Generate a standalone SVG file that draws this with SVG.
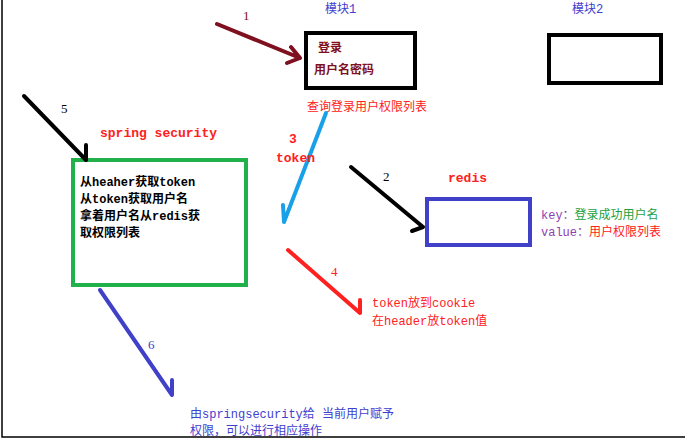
<svg xmlns="http://www.w3.org/2000/svg" width="687" height="441" viewBox="0 0 687 441">
<style>
.t{font-family:"Liberation Mono","Noto Sans CJK SC",monospace;font-size:13px;font-weight:bold}
.c{font-family:"Liberation Mono","Noto Sans CJK SC",monospace;font-size:12px}
.n{font-family:"Liberation Serif",serif;font-size:13px}
.ln{fill:none;stroke-width:4;stroke-linecap:round;stroke-linejoin:round}
</style>
<rect width="687" height="441" fill="#fff"/>
<path d="M2 0V437H685" fill="none" stroke="#000" stroke-width="1.5"/>
<g id="mod1"><rect x="306" y="33" width="109" height="55" fill="none" stroke="#000" stroke-width="4"/>
<text class="c" x="325" y="13" fill="#4040d0">模块1</text>
<text class="c" x="318" y="52" fill="#7f1020" font-weight="bold">登录</text>
<text class="c" x="314" y="74" fill="#7f1020" font-weight="bold">用户名密码</text>
<text class="c" x="307" y="111" fill="#ff2020">查询登录用户权限列表</text></g>
<g id="mod2"><rect x="549" y="35" width="112" height="48" fill="none" stroke="#000" stroke-width="4"/>
<text class="c" x="572" y="13" fill="#4040d0">模块2</text></g>
<g id="security"><rect x="73" y="160" width="173" height="125" fill="none" stroke="#22b04a" stroke-width="4"/>
<text class="t" x="100" y="137" fill="#ff2020" font-size="11">spring security</text>
<text class="c" x="80" y="186" font-weight="bold">从heaher获取token</text>
<text class="c" x="80" y="203" font-weight="bold">从token获取用户名</text>
<text class="c" x="80" y="220" font-weight="bold">拿着用户名从redis获</text>
<text class="c" x="80" y="237" font-weight="bold">取权限列表</text></g>
<g id="redis"><rect x="427" y="199" width="103" height="46" fill="none" stroke="#4040c8" stroke-width="4"/>
<text class="t" x="448" y="182" fill="#ff2020" font-size="11">redis</text>
<text class="c" x="541" y="219"><tspan fill="#9040b0">key：</tspan><tspan fill="#22a040">登录成功用户名</tspan></text>
<text class="c" x="541" y="236"><tspan fill="#9040b0">value：</tspan><tspan fill="#ff2020">用户权限列表</tspan></text></g>
<g id="notes">
<text class="c" x="372" y="307" fill="#ff2020">token放到cookie</text>
<text class="c" x="372" y="325" fill="#ff2020">在header放token值</text>
<text class="c" x="190" y="418" fill="#4040d0">由springsecurity给 当前用户赋予</text>
<text class="c" x="190" y="435" fill="#4040d0">权限，可以进行相应操作</text></g>
<g id="connectors">
<path class="ln" stroke="#7f1020" d="M217 24L300 58M291 47L300 58L287 63"/>
<path class="ln" stroke="#000" stroke-width="3" d="M24 96L86 160M86 145L86 160"/>
<path class="ln" stroke="#1aa0e8" stroke-width="3" d="M326 113L284 222M283 205L284 222"/>
<path class="ln" stroke="#000" stroke-width="3" d="M351 167L423 227M412 231L423 227"/>
<path class="ln" stroke="#ff2020" stroke-width="3" d="M288 250L360 313M360 300L360 313"/>
<path class="ln" stroke="#4040c8" d="M100 290L172 395M172 380L172 395"/>
<text class="n" x="243" y="20" fill="#7f1020">1</text>
<text class="n" x="383" y="181" fill="#000">2</text>
<text class="t" x="289" y="143" fill="#ff2020" font-size="11">3</text>
<text class="t" x="276" y="162" fill="#ff2020" font-size="11">token</text>
<text class="n" x="331" y="276" fill="#ff2020">4</text>
<text class="n" x="61" y="113" fill="#000">5</text>
<text class="n" x="148" y="349" fill="#4040c8">6</text>
</g>
</svg>
